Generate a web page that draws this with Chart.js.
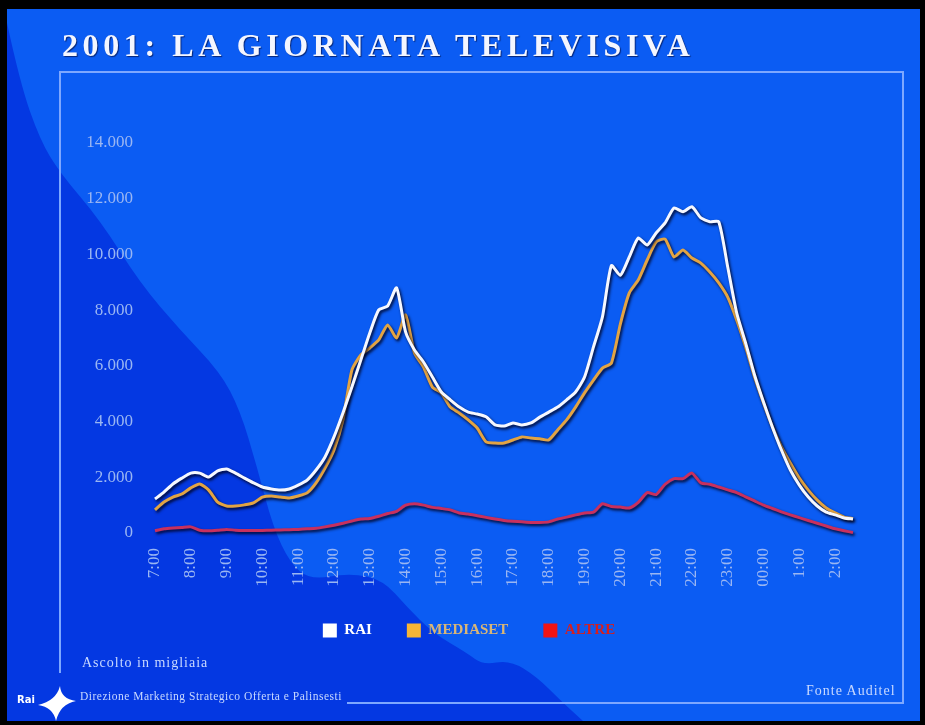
<!DOCTYPE html>
<html lang="it">
<head>
<meta charset="utf-8">
<title>2001: la giornata televisiva</title>
<script src="https://cdn.jsdelivr.net/npm/chart.js@4.4.0/dist/chart.umd.min.js"></script>
<style>
    body { margin: 0; background: #000; }
    #wrap { position: relative; width: 925px; height: 725px; overflow: hidden; }
    #grafico { position: absolute; left: 0; top: 0; }
    .testo { position: absolute; font-family: 'Liberation Serif', serif; color: #c9d9ff; white-space: nowrap; line-height: 1; }
    #titolo { left: 62px; top: 29px; font-size: 32px; font-weight: bold; letter-spacing: 4.6px; color: #f4f6ff; text-shadow: 1px 1px 1px rgba(0, 0, 40, 0.6); }
    #ascolto { left: 82px; top: 656px; font-size: 14px; letter-spacing: 1px; }
    #direzione { left: 80px; top: 691px; font-size: 11.5px; letter-spacing: 0.5px; }
    #fonte { left: 806px; top: 684px; font-size: 14px; letter-spacing: 1px; }
    #rai { left: 17px; top: 695px; font-family: 'DejaVu Sans', sans-serif; font-weight: bold; font-size: 10px; color: #fff; }
</style>
</head>
<body>
<div id="wrap">
    <canvas id="grafico" width="925" height="725"></canvas>
    <div class="testo" id="titolo">2001: LA GIORNATA TELEVISIVA</div>
    <div class="testo" id="ascolto">Ascolto in migliaia</div>
    <div class="testo" id="rai">Rai</div>
    <div class="testo" id="direzione">Direzione Marketing Strategico Offerta e Palinsesti</div>
    <div class="testo" id="fonte">Fonte Auditel</div>
</div>
<script>
// Orari ogni 15 minuti, dalle 7:00 alle 2:30
const orari = [
    '7:00', '7:15', '7:30', '7:45', '8:00', '8:15', '8:30', '8:45',
    '9:00', '9:15', '9:30', '9:45', '10:00', '10:15', '10:30', '10:45',
    '11:00', '11:15', '11:30', '11:45', '12:00', '12:15', '12:30', '12:45',
    '13:00', '13:15', '13:30', '13:45', '14:00', '14:15', '14:30', '14:45',
    '15:00', '15:15', '15:30', '15:45', '16:00', '16:15', '16:30', '16:45',
    '17:00', '17:15', '17:30', '17:45', '18:00', '18:15', '18:30', '18:45',
    '19:00', '19:15', '19:30', '19:45', '20:00', '20:15', '20:30', '20:45',
    '21:00', '21:15', '21:30', '21:45', '22:00', '22:15', '22:30', '22:45',
    '23:00', '23:15', '23:30', '23:45', '00:00', '0:15', '0:30', '0:45',
    '1:00', '1:15', '1:30', '1:45', '2:00', '2:15', '2:30'
];

// Ascolto in migliaia
const rai = [
    1220, 1470, 1760, 1970, 2150, 2150, 2010, 2230,
    2300, 2150, 1970, 1800, 1650, 1580, 1540, 1580,
    1720, 1900, 2260, 2730, 3450, 4310, 5240, 6210,
    7180, 8010, 8150, 8800, 7220, 6570, 6140, 5600,
    5060, 4780, 4520, 4340, 4270, 4170, 3880, 3840,
    3950, 3880, 3950, 4160, 4340, 4520, 4780, 5060,
    5600, 6680, 7760, 9600, 9250, 9910, 10590, 10340,
    10770, 11130, 11670, 11530, 11710, 11310, 11170, 11170,
    9550, 7900, 6820, 5670, 4700, 3800, 2980, 2260,
    1720, 1290, 970, 750, 650, 540, 500
];
const mediaset = [
    830, 1110, 1290, 1400, 1620, 1760, 1540, 1110,
    970, 970, 1010, 1080, 1290, 1330, 1290, 1260,
    1330, 1440, 1800, 2330, 2980, 4060, 5850, 6390,
    6640, 6930, 7470, 7000, 7830, 6460, 5960, 5240,
    5030, 4520, 4310, 4060, 3770, 3270, 3230, 3230,
    3340, 3450, 3410, 3380, 3340, 3700, 4060, 4520,
    5030, 5490, 5920, 6100, 7500, 8620, 9080, 9800,
    10450, 10550, 9910, 10160, 9870, 9690, 9370, 8980,
    8470, 7650, 6680, 5600, 4670, 3810, 3090, 2510,
    1970, 1540, 1180, 900, 720, 570, 520
];
const altre = [
    80, 150, 180, 200, 220, 100, 80, 100,
    130, 100, 90, 90, 90, 100, 110, 120,
    130, 150, 170, 220, 280, 350, 430, 500,
    520, 600, 700, 780, 1000, 1050, 1000, 920,
    880, 830, 720, 680, 620, 560, 500, 450,
    420, 400, 380, 380, 400, 500, 570, 650,
    720, 750, 1050, 950, 930, 900, 1100, 1450,
    1380, 1750, 1950, 1950, 2150, 1800, 1750, 1650,
    1550, 1450, 1300, 1150, 1000, 880, 760, 650,
    550, 450, 350, 250, 150, 80, 20
];

const emittenti = ['RAI', 'MEDIASET', 'ALTRE'];
const coloriLinee = ['#f6f8ff', '#e3a443', '#c8305e'];
const coloriLegenda = ['#ffffff', '#f7b537', '#f01414'];
const coloriTesto = ['#ffffff', '#d9b677', '#d42020'];

// formato italiano: 14.000
function migliaia(v) {
    return String(v).replace(/\B(?=(\d{3})+(?!\d))/g, '.');
}

// sfondo, onda scura, cornice e logo
const sfondo = {
    id: 'sfondo',
    beforeDraw(chart) {
        const ctx = chart.ctx;
        ctx.save();
        ctx.fillStyle = '#000';
        ctx.fillRect(0, 0, 925, 725);
        ctx.fillStyle = '#0b5cf3';
        ctx.fillRect(7, 9, 913, 712);

        const onda = [[7, 23], [20, 83], [40, 140], [60, 173], [100, 220], [140, 283], [180, 330],
            [220, 372], [240, 410], [257, 467], [273, 527], [290, 563], [310, 580], [350, 573],
            [383, 580], [407, 607], [433, 633], [467, 653], [483, 665], [510, 660], [537, 677],
            [560, 700], [583, 721]];
        ctx.fillStyle = '#0438e2';
        ctx.beginPath();
        ctx.moveTo(onda[0][0], onda[0][1]);
        for (let i = 1; i < onda.length - 1; i++) {
            const mx = (onda[i][0] + onda[i + 1][0]) / 2;
            const my = (onda[i][1] + onda[i + 1][1]) / 2;
            ctx.quadraticCurveTo(onda[i][0], onda[i][1], mx, my);
        }
        ctx.lineTo(583, 721);
        ctx.lineTo(7, 721);
        ctx.closePath();
        ctx.fill();

        ctx.strokeStyle = '#7ea8ff';
        ctx.lineWidth = 2;
        ctx.beginPath();
        ctx.moveTo(60, 673);
        ctx.lineTo(60, 72);
        ctx.lineTo(903, 72);
        ctx.lineTo(903, 703);
        ctx.lineTo(347, 703);
        ctx.stroke();

        // stella del logo
        ctx.fillStyle = '#ffffff';
        ctx.beginPath();
        ctx.moveTo(60, 686);
        ctx.quadraticCurveTo(61, 699, 76, 701);
        ctx.quadraticCurveTo(60, 704, 56, 721);
        ctx.quadraticCurveTo(53, 707, 38, 705);
        ctx.quadraticCurveTo(56, 701, 60, 686);
        ctx.closePath();
        ctx.fill();
        ctx.restore();
    }
};

// ombra scura sotto le linee
const ombra = {
    id: 'ombra',
    beforeDatasetDraw(chart) {
        const ctx = chart.ctx;
        ctx.save();
        ctx.shadowColor = 'rgba(0, 0, 25, 0.9)';
        ctx.shadowBlur = 3;
        ctx.shadowOffsetX = 1.5;
        ctx.shadowOffsetY = 2;
    },
    afterDatasetDraw(chart) {
        chart.ctx.restore();
    }
};

const fontSerif = { family: "'Liberation Serif', serif", size: 17 };
const coloreTick = '#9ab6f2';

const ctx = document.getElementById('grafico').getContext('2d');
const grafico = new Chart(ctx, {
    type: 'line',
    data: {
        labels: orari,
        datasets: [rai, mediaset, altre].map((valori, i) => ({
            label: emittenti[i],
            data: valori,
            borderColor: coloriLinee[i],
            backgroundColor: coloriLegenda[i],
            borderWidth: 3,
            pointRadius: 0,
            tension: 0.2,
            clip: false
        }))
    },
    options: {
        responsive: false,
        animation: false,
        layout: { padding: { left: 85, right: 72, top: 143, bottom: 77 } },
        scales: {
            x: {
                grid: { display: false, drawTicks: false },
                border: { display: false },
                afterFit: s => { s.height = 55; },
                ticks: {
                    autoSkip: false,
                    minRotation: 90,
                    maxRotation: 90,
                    padding: 15,
                    color: coloreTick,
                    font: fontSerif,
                    callback: function(v, i) {
                        return orari[i].endsWith(':00') ? orari[i] : null;
                    }
                }
            },
            y: {
                min: 0,
                max: 14000,
                grid: { display: false, drawTicks: false },
                border: { display: false },
                afterFit: s => { s.width = 70; },
                ticks: {
                    stepSize: 2000,
                    padding: 22,
                    color: coloreTick,
                    font: fontSerif,
                    callback: v => migliaia(v)
                }
            }
        },
        plugins: {
            title: { display: false },
            tooltip: { enabled: false },
            legend: {
                position: 'bottom',
                labels: {
                    boxWidth: 14,
                    boxHeight: 14,
                    padding: 35,
                    font: { family: "'Liberation Serif', serif", size: 15, weight: 'bold' },
                    generateLabels: chart => chart.data.datasets.map((ds, i) => ({
                        text: ds.label,
                        fillStyle: coloriLegenda[i],
                        strokeStyle: coloriLegenda[i],
                        lineWidth: 0,
                        fontColor: coloriTesto[i],
                        hidden: false,
                        datasetIndex: i
                    }))
                }
            }
        }
    },
    plugins: [sfondo, ombra]
});
</script>
</body>
</html>
